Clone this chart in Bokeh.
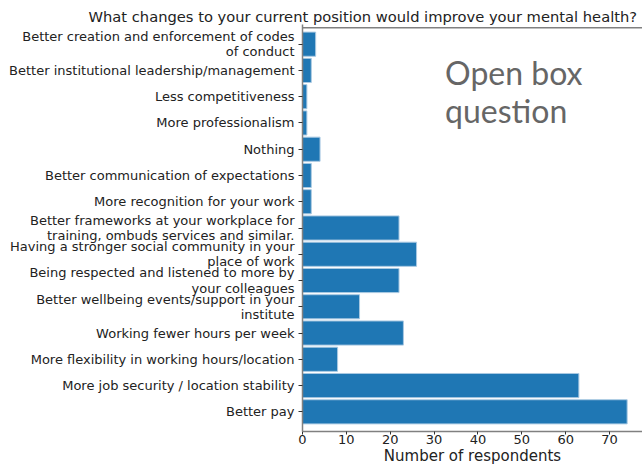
from bokeh.plotting import figure
from bokeh.models import Label, FactorRange, Range1d, Span
from bokeh.embed import file_html
from bokeh.resources import INLINE

# Data (top to bottom as shown)
labels = [
    "Better creation and enforcement of codes\nof conduct",
    "Better institutional leadership/management",
    "Less competitiveness",
    "More professionalism",
    "Nothing",
    "Better communication of expectations",
    "More recognition for your work",
    "Better frameworks at your workplace for\ntraining, ombuds services and similar.",
    "Having a stronger social community in your\nplace of work",
    "Being respected and listened to more by\nyour colleagues",
    "Better wellbeing events/support in your\ninstitute",
    "Working fewer hours per week",
    "More flexibility in working hours/location",
    "More job security / location stability",
    "Better pay",
]
counts = [3, 2, 1, 1, 4, 2, 2, 22, 26, 22, 13, 23, 8, 63, 74]
x_ticks = [0, 10, 20, 30, 40, 50, 60, 70]
title_text = "What changes to your current position would improve your mental health?"
note_text = "Open box\nquestion"
x_label = "Number of respondents"

pad = 0.25
factors = list(reversed(labels))
yr = FactorRange(factors=factors, range_padding=pad, range_padding_units="absolute")
top_center = len(labels) - 0.5  # synthetic coordinate of the top category

font = "DejaVu Sans"
gray = "#808080"

p = figure(width=642, height=471, y_range=yr, x_range=Range1d(0, 77.5),
           output_backend="svg", toolbar_location=None,
           min_border_left=302, min_border_top=24, min_border_bottom=40, min_border_right=0)

p.title.text = title_text
p.title.align = "left"
p.title.offset = -214
p.title.standoff = 0
p.title.text_font = font
p.title.text_font_size = "14.7px"
p.title.text_font_style = "normal"
p.title.text_color = "#222222"

p.hbar(y=labels, right=counts, left=0, height=0.92,
       fill_color="#1f77b4", line_color="#a9c9e2", line_width=1)

p.xgrid.visible = False
p.ygrid.visible = False
p.outline_line_color = None
p.background_fill_color = "white"
p.border_fill_color = "white"

# top spine
p.add_layout(Span(location=len(labels) + pad / 2, dimension="width",
                  line_color=gray, line_width=1.5))

for ax in (p.xaxis, p.yaxis):
    ax.axis_line_color = gray
    ax.axis_line_width = 1.5
    ax.major_tick_line_color = "#333333"
    ax.major_tick_out = 4
    ax.major_tick_in = 0
    ax.minor_tick_line_color = None
    ax.major_label_text_font = font
    ax.major_label_text_font_size = "13px"
    ax.major_label_text_color = "#222222"

p.xaxis.major_tick_out = 3
p.yaxis.major_label_text_line_height = 1.02
p.xaxis.ticker = x_ticks
p.xaxis.major_label_standoff = 0
p.xaxis.axis_label = x_label
p.xaxis.axis_label_text_font = font
p.xaxis.axis_label_text_font_size = "15px"
p.xaxis.axis_label_text_font_style = "normal"
p.xaxis.axis_label_text_color = "#222222"
p.xaxis.axis_label_standoff = 0
p.yaxis.major_label_standoff = 4

p.add_layout(Label(x=32.5, y=top_center, y_offset=-9, text=note_text,
                   text_align="left", text_baseline="top", text_line_height=0.98,
                   text_font="Lato", text_font_size="32px", text_color="#666666"))

open("out.html", "w").write(file_html(p, INLINE))
